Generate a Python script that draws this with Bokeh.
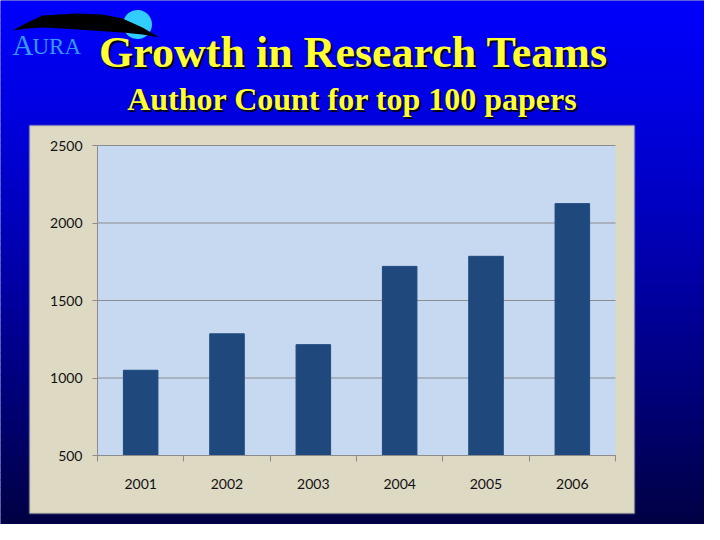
import numpy as np
from bokeh.plotting import figure
from bokeh.models import (Range1d, LinearAxis, FixedTicker, PolyAnnotation, BoxAnnotation, Label)
from bokeh.embed import file_html
from bokeh.resources import INLINE

# ---- data ----
years = ["2001", "2002", "2003", "2004", "2005", "2006"]
author_counts = [1050, 1285, 1215, 1720, 1785, 2125]
y_ticks = [500, 1000, 1500, 2000, 2500]
title_text = "Growth in Research Teams"
subtitle_text = "Author Count for top 100 papers"
logo_big = "A"
logo_small = "URA"

W, H = 704, 524
OFF = 8                                 # page margin: reference pixel -> canvas pixel
AL, AR, AT, AB = 97, 615, 145, 455      # plot area on the canvas
PL, PR, PT, PB = 29, 634, 125, 513      # chart panel on the canvas

ncat = len(years)
centers = [i + 0.5 for i in range(ncat)]
ux = ncat / (AR - AL)                          # x data units per pixel
uy = (y_ticks[-1] - y_ticks[0]) / (AB - AT)    # y data units per pixel


def X(cx):
    return (cx - AL) * ux


def Y(cy):
    return y_ticks[0] + (AB - cy) * uy


p = figure(width=W, height=H, x_range=Range1d(X(0), X(W)), y_range=Range1d(Y(H), Y(0)),
           output_backend="svg", toolbar_location=None,
           x_axis_location=None, y_axis_location=None, min_border=0)
p.min_border_left = p.min_border_right = p.min_border_top = p.min_border_bottom = 0
p.outline_line_color = None
p.border_fill_color = "#00009a"
p.background_fill_color = "#00009a"
p.xgrid.visible = False
p.ygrid.visible = False

# ---- slide background gradient ----
n = 70
edges = np.linspace(0, H, n + 1)
for i in range(n):
    y0, y1 = float(edges[i]), float(edges[i + 1]) + 1
    t = (y0 + y1) / 2 / H
    b = int(round(252 - 185 * t ** 1.2))
    p.add_layout(BoxAnnotation(top=Y(y0), bottom=Y(y1), fill_color="#%02x%02x%02x" % (0, 0, b),
                               fill_alpha=1, line_color=None, level="image"))

# ---- chart panel and plot area ----
p.add_layout(BoxAnnotation(left=X(PL), right=X(PR), top=Y(PT), bottom=Y(PB),
                           fill_color="#DDD9C3", fill_alpha=1, line_color="#9a9a9a", line_width=2,
                           level="image"))
p.add_layout(BoxAnnotation(left=0, right=ncat, top=y_ticks[-1], bottom=y_ticks[0],
                           fill_color="#C6D9F1", fill_alpha=1, line_color=None, level="image"))

# gridlines across the plot area
p.segment(x0=[0] * len(y_ticks), x1=[ncat] * len(y_ticks), y0=y_ticks, y1=y_ticks,
          line_color="#8c8c8c", line_width=1)

# ---- bars ----
p.vbar(x=centers, top=author_counts, bottom=y_ticks[0], width=0.4, color="#1F497D")

# ---- axes ----
yaxis = LinearAxis(ticker=FixedTicker(ticks=y_ticks), fixed_location=0, bounds=(y_ticks[0], y_ticks[-1]),
                   axis_line_color="#8c8c8c", major_tick_line_color="#8c8c8c",
                   major_tick_out=5, major_tick_in=0, minor_tick_line_color=None,
                   major_label_text_font="Lato", major_label_text_font_size="14px",
                   major_label_text_color="#111111", major_label_standoff=10)
p.add_layout(yaxis, "left")
tick_axis = LinearAxis(ticker=FixedTicker(ticks=list(range(ncat + 1))), fixed_location=y_ticks[0],
                       bounds=(0, ncat), axis_line_color="#8c8c8c", major_tick_line_color="#8c8c8c",
                       major_tick_out=6, major_tick_in=0, minor_tick_line_color=None,
                       major_label_text_font_size="0px", major_label_standoff=0)
p.add_layout(tick_axis, "below")
xaxis = LinearAxis(ticker=FixedTicker(ticks=centers), fixed_location=y_ticks[0], bounds=(0, ncat),
                   major_label_overrides={c: y for c, y in zip(centers, years)},
                   axis_line_color=None, major_tick_line_color=None, minor_tick_line_color=None,
                   major_tick_out=0, major_tick_in=0,
                   major_label_text_font="Lato", major_label_text_font_size="14px",
                   major_label_text_color="#111111", major_label_standoff=23)
p.add_layout(xaxis, "below")

# ---- logo ----
th = np.linspace(0, 2 * np.pi, 60)
cx, cy, r = 145 - OFF, 32 - OFF, 14.5
p.add_layout(PolyAnnotation(xs=[X(v) for v in cx + r * np.cos(th)],
                            ys=[Y(v) for v in cy + r * np.sin(th)],
                            fill_color="#33CCFF", fill_alpha=1, line_color=None))
sw_x = [20, 35, 50, 83, 110, 130, 150, 167, 150, 130, 100, 70, 50, 35]
sw_y = [38, 30, 23, 21, 22, 26, 35, 45, 42, 40, 38, 36, 35, 36]
p.add_layout(PolyAnnotation(xs=[X(v - OFF) for v in sw_x], ys=[Y(v - OFF) for v in sw_y],
                            fill_color="#000000", fill_alpha=1, line_color=None))


# ---- titles (y is the vertical middle of the text on the canvas) ----
def add_text(txt, x, y, size, color, bold=True, shadow=True, font="Liberation Serif", align="center"):
    style = "bold" if bold else "normal"
    if shadow:
        p.add_layout(Label(x=X(x + 2), y=Y(y + 2), text=txt,
                           text_font=font, text_font_size=size, text_color="#000022",
                           text_font_style=style, text_align=align, text_baseline="middle"))
    p.add_layout(Label(x=X(x), y=Y(y), text=txt,
                       text_font=font, text_font_size=size, text_color=color,
                       text_font_style=style, text_align=align, text_baseline="middle"))


add_text(title_text, 361 - OFF, 60 - OFF, "44px", "#FFFF33")
add_text(subtitle_text, 360 - OFF, 106 - OFF, "32px", "#FFFF33")
add_text(logo_big, 20 - OFF, 52 - OFF, "29px", "#3399FF", bold=False, shadow=False, align="left")
add_text(logo_small, 40 - OFF, 54 - OFF, "23px", "#3399FF", bold=False, shadow=False, align="left")

open("out.html", "w").write(file_html(p, INLINE))
